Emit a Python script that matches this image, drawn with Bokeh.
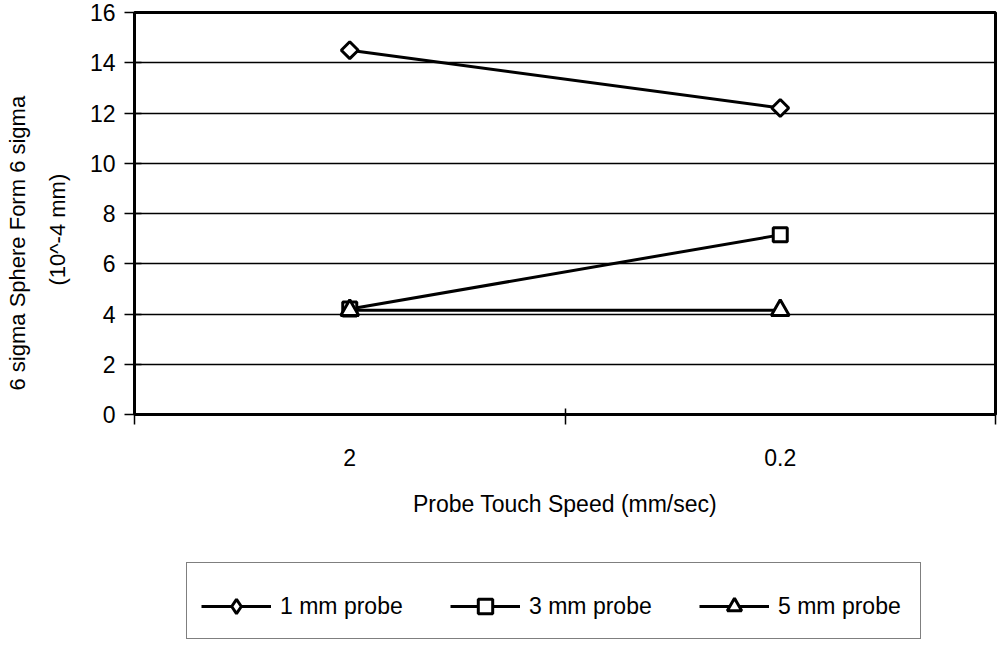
import math
from bokeh.plotting import figure
from bokeh.layouts import column
from bokeh.models import Range1d, FixedTicker, Legend, LegendItem, Title
from bokeh.embed import file_html
from bokeh.resources import INLINE

# ---- data ----
speeds = ["2", "0.2"]
probe_1mm = [14.5, 12.2]
probe_3mm = [4.2, 7.15]
probe_5mm = [4.15, 4.15]
series_names = ["1 mm probe", "3 mm probe", "5 mm probe"]
y_ticks = [0, 2, 4, 6, 8, 10, 12, 14, 16]
x_title = "Probe Touch Speed (mm/sec)"
y_title_1 = "6 sigma Sphere Form 6 sigma"
y_title_2 = "(10^-4 mm)"

FONT = "Liberation Sans"
FS = "23px"

xpos = [i + 0.5 for i in range(len(speeds))]
bounds = [float(i) for i in range(len(speeds) + 1)]

p = figure(frame_width=861, frame_height=402,
           x_range=Range1d(0, len(speeds)), y_range=Range1d(y_ticks[0], y_ticks[-1]),
           output_backend="svg", toolbar_location=None,
           min_border_left=134, min_border_right=2, min_border_top=12, min_border_bottom=129)
p.background_fill_color = "white"
p.border_fill_color = "white"
p.outline_line_color = "black"
p.outline_line_width = 3

# grid
p.xgrid.visible = False
p.ygrid.ticker = FixedTicker(ticks=y_ticks)
p.ygrid.grid_line_color = "black"
p.ygrid.grid_line_width = 1.3
p.ygrid.grid_line_alpha = 1.0

# y axis
ya = p.yaxis[0]
ya.ticker = FixedTicker(ticks=y_ticks)
ya.axis_line_color = "black"
ya.axis_line_width = 3
ya.major_tick_line_color = "black"
ya.major_tick_line_width = 1.5
ya.major_tick_in = 7
ya.major_tick_out = 10
ya.minor_tick_line_color = None
ya.major_label_text_font = FONT
ya.major_label_text_font_size = FS
ya.major_label_text_color = "black"
ya.major_label_standoff = 9

# x axis
xa = p.xaxis[0]
xa.ticker = FixedTicker(ticks=xpos, minor_ticks=bounds)
xa.major_label_overrides = {x: s for x, s in zip(xpos, speeds)}
xa.axis_line_color = "black"
xa.axis_line_width = 3
xa.major_tick_line_color = None
xa.major_tick_in = 0
xa.major_tick_out = 10
xa.minor_tick_line_color = "black"
xa.minor_tick_line_width = 1.5
xa.minor_tick_in = 6
xa.minor_tick_out = 10
xa.major_label_text_font = FONT
xa.major_label_text_font_size = FS
xa.major_label_text_color = "black"
xa.major_label_standoff = 24
xa.axis_label = x_title
xa.axis_label_text_font = FONT
xa.axis_label_text_font_size = FS
xa.axis_label_text_font_style = "normal"
xa.axis_label_text_color = "black"
xa.axis_label_standoff = 22

# series
markers = [dict(marker="square", size=12, angle=math.pi / 4, legend_marker="diamond"),
           dict(marker="square", size=14, angle=0, legend_marker="square"),
           dict(marker="triangle", size=18, angle=0, legend_marker="triangle")]
series_vals = [probe_1mm, probe_3mm, probe_5mm]
for vals, mk in zip(series_vals, markers):
    p.line(xpos, vals, line_color="black", line_width=3)
    p.scatter(xpos, vals, marker=mk["marker"], size=mk["size"], angle=mk["angle"],
              fill_color="white", line_color="black", line_width=3)

# y axis title (two lines, outer line added last)
p.add_layout(Title(text=y_title_2, align="left", offset=129, standoff=30,
                   vertical_align="top",
                   text_font=FONT, text_font_size="22px", text_font_style="normal",
                   text_color="black"), "left")
p.add_layout(Title(text=y_title_1, align="left", offset=24, standoff=0,
                   text_font=FONT, text_font_size="22px", text_font_style="normal",
                   text_color="black"), "left")

# ---- legend strip (separate figure below the chart) ----
lf = figure(width=997, height=100, x_range=Range1d(0, 1), y_range=Range1d(0, 1),
            output_backend="svg", toolbar_location=None,
            x_axis_location=None, y_axis_location=None, min_border=0)
lf.grid.visible = False
lf.outline_line_color = None
lf.background_fill_color = "white"
lf.border_fill_color = "white"
items = []
for name, vals, mk in zip(series_names, series_vals, markers):
    ln = lf.line(xpos, vals, line_color="black", line_width=3, visible=False)
    sc = lf.scatter(xpos, vals, marker=mk["legend_marker"], size=mk["size"],
                    fill_color="white", line_color="black", line_width=3, visible=False)
    items.append(LegendItem(label=name, renderers=[ln, sc]))

legend = Legend(items=items, orientation="horizontal", location=(52, 4),
                border_line_color="black", border_line_width=1.5,
                background_fill_color="white", background_fill_alpha=1.0,
                inactive_fill_alpha=0.0,
                padding=14, spacing=42, margin=0,
                glyph_width=70, glyph_height=36, label_height=36, label_width=128,
                label_standoff=9, label_text_font=FONT, label_text_font_size=FS,
                label_text_color="black",
                title=" ", title_text_font_size="8px", title_standoff=2)
lf.add_layout(legend)

layout = column(p, lf, spacing=0)
open("out.html", "w").write(file_html(layout, INLINE))
